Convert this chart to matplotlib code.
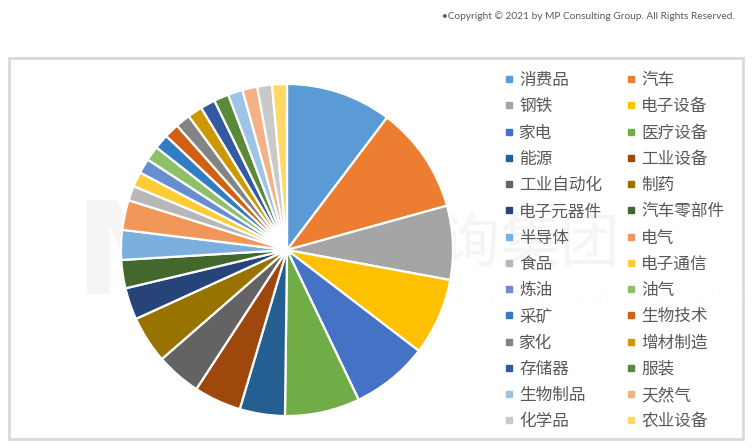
import matplotlib
matplotlib.use("Agg")
import matplotlib.pyplot as plt
from matplotlib.lines import Line2D
from matplotlib.patches import Rectangle

plt.rcParams['font.family'] = ['Noto Sans CJK SC', 'DejaVu Sans']

categories = ["消费品", "汽车", "钢铁", "电子设备", "家电", "医疗设备", "能源", "工业设备",
              "工业自动化", "制药", "电子元器件", "汽车零部件", "半导体", "电气", "食品", "电子通信",
              "炼油", "油气", "采矿", "生物技术", "家化", "增材制造", "存储器", "服装",
              "生物制品", "天然气", "化学品", "农业设备"]
values = [10.3, 10.4, 7.2, 7.5, 7.5, 7.3, 4.4, 4.6,
          4.4, 4.6, 3.1, 2.75, 2.9, 2.9, 1.44, 1.44,
          1.44, 1.44, 1.44, 1.44, 1.44, 1.44, 1.44, 1.44,
          1.44, 1.44, 1.44, 1.44]
colors = ["#5B9BD5", "#ED7D31", "#A5A5A5", "#FFC000", "#4472C4", "#70AD47",
          "#255E91", "#9E480E", "#636363", "#997300", "#264478", "#43682B",
          "#7CAFDD", "#F1975A", "#B7B7B7", "#FFCD33", "#698ED0", "#8CC168",
          "#327DC2", "#D26012", "#848484", "#CC9A00", "#335AA1", "#5A8A39",
          "#9DC3E6", "#F4B183", "#C9C9C9", "#FFD966"]

W, H = 752, 448
fig = plt.figure(figsize=(W / 100, H / 100), dpi=100)
fig.patch.set_facecolor("white")

# outer border
fig.patches.append(Rectangle((9 / W, (H - 439) / H), (743 - 9) / W, (439 - 58) / H,
                             transform=fig.transFigure, fill=False,
                             edgecolor="#D9D9D9", linewidth=2))

# copyright
fig.text(735 / W, 1 - 16 / H, "•Copyright © 2021 by MP Consulting Group. All Rights Reserved.",
         ha="right", va="center", fontsize=7.3, color="#595959", family=["Lato", "DejaVu Sans"])

# watermark (very faint, behind everything)
wm = "#F5F5F5"
fig.text(74 / W, 1 - 259 / H, "MP", fontsize=92, color=wm, ha="left", va="center",
         family=["DejaVu Sans"], fontweight="bold", zorder=-5)
fig.text(262 / W, 1 - 245 / H, "麦格咨询集团", fontsize=43, color=wm, ha="left", va="center",
         zorder=-5)
fig.text(296 / W, 1 - 297 / H, "MANAGEMENT PROFESSIONAL GROUP", fontsize=19, color=wm,
         ha="left", va="center", family=["Lato", "DejaVu Sans"], fontweight="light", zorder=-5)

# pie
cx, cy, r = 287, 250, 166
ax = fig.add_axes([(cx - r) / W, (H - cy - r) / H, 2 * r / W, 2 * r / H])
ax.set_facecolor("none")
ax.pie(values, colors=colors, startangle=90, counterclock=False, radius=1,
       wedgeprops=dict(edgecolor="white", linewidth=1.6))
ax.set_xlim(-1.0, 1.0)
ax.set_ylim(-1.0, 1.0)
ax.set_aspect("equal")
ax.axis("off")

# legend: row-wise order with 2 columns
handles = [Line2D([], [], marker="s", linestyle="none", markersize=4.2,
                  markerfacecolor=c, markeredgecolor=c) for c in colors]
order = list(range(0, len(categories), 2)) + list(range(1, len(categories), 2))
leg = fig.legend([handles[i] for i in order], [categories[i] for i in order],
                 ncol=2, loc="upper left", bbox_to_anchor=(504 / W, 1 - 72 / H),
                 frameon=False, fontsize=12, labelcolor="#595959",
                 handlelength=0.6, handletextpad=0.3, columnspacing=1.45,
                 labelspacing=0.555, borderaxespad=0, borderpad=0)

fig.savefig("out.png", dpi=100, facecolor="white")
